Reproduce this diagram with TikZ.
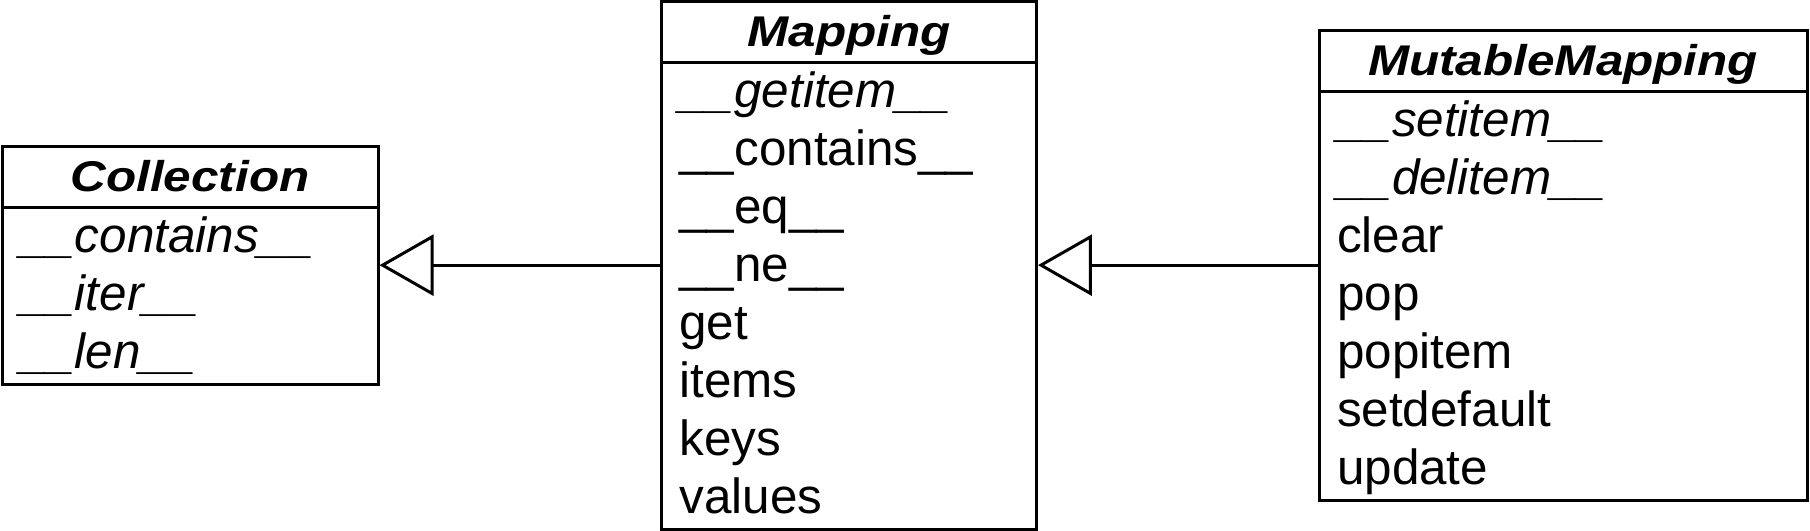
\documentclass[tikz,border=0pt]{standalone}
\usepackage{fontspec}
\setmainfont{Liberation Sans}
\newfontfamily\classfont[FakeStretch=1.15]{Liberation Sans}
\usetikzlibrary{positioning,arrows.meta,shapes.multipart}
\newcommand{\rowstrut}{\rule[-7.25pt]{0pt}{29pt}}
\newcommand{\dunder}[1]{\_\_#1\_\_}
\newcommand{\classname}[1]{{\classfont\fontsize{21.5}{29}\selectfont\bfseries\itshape #1}\rowstrut}
\tikzset{
  umlclass/.style={draw, line width=1.5pt, rectangle split, rectangle split parts=2,
    rectangle split part align={center,left}, align=left, inner xsep=9pt, inner ysep=0pt,
    font=\fontsize{24.7}{29}\selectfont},
  inherit/.style={-{Triangle[open, length=27pt, width=30.5pt]}, line width=1.5pt}
}
\begin{document}
\begin{tikzpicture}
  \useasboundingbox (0,-4.66) rectangle (31.81,4.66);
  \node[umlclass, minimum width=188pt] (collection) at (3.34,0)
    {\classname{Collection}
     \nodepart{two}\textit{\dunder{contains}}\rowstrut\\
     \textit{\dunder{iter}}\rowstrut\\
     \textit{\dunder{len}}\rowstrut};
  \node[umlclass, minimum width=187.5pt] (mapping) at (14.92,0)
    {\classname{Mapping}
     \nodepart{two}\textit{\dunder{getitem}}\rowstrut\\
     \dunder{contains}\rowstrut\\
     \dunder{eq}\rowstrut\\
     \dunder{ne}\rowstrut\\
     get\rowstrut\\
     items\rowstrut\\
     keys\rowstrut\\
     values\rowstrut};
  \node[umlclass, minimum width=244pt] (mutable) at (27.47,0)
    {\classname{MutableMapping}
     \nodepart{two}\textit{\dunder{setitem}}\rowstrut\\
     \textit{\dunder{delitem}}\rowstrut\\
     clear\rowstrut\\
     pop\rowstrut\\
     popitem\rowstrut\\
     setdefault\rowstrut\\
     update\rowstrut};
  \draw[inherit] (mapping.west) -- (collection.east);
  \draw[inherit] (mutable.west) -- (mapping.east);
\end{tikzpicture}
\end{document}
